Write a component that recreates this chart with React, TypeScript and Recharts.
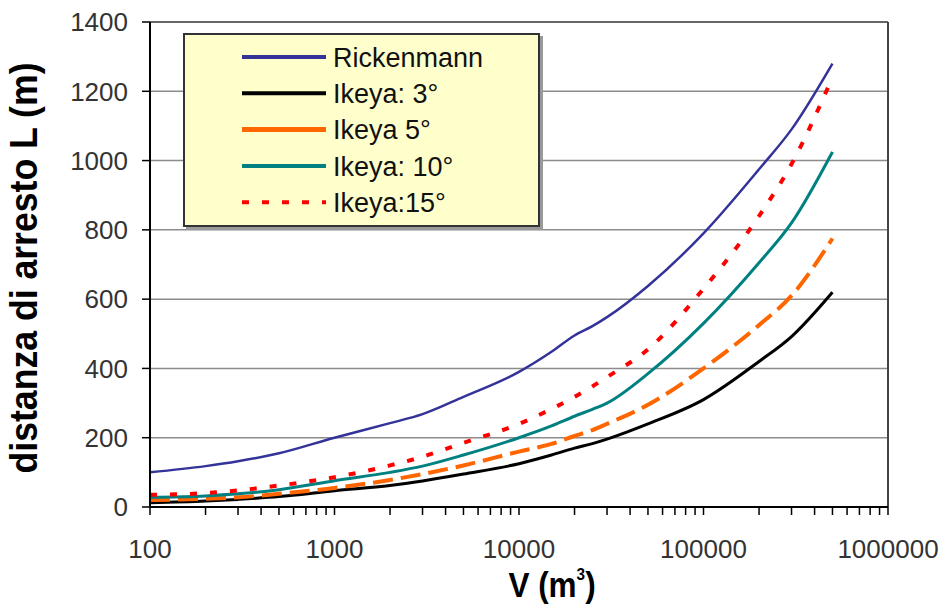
import React from 'react';
import { LineChart, Line, XAxis, YAxis, CartesianGrid, Legend, ReferenceLine } from 'recharts';

const FONT = '"Liberation Sans", Arial, sans-serif';

const volumes = [100, 200, 300, 500, 1000, 2000, 3000, 5000, 10000, 15000, 20000, 25000, 30000, 50000, 100000, 200000, 300000, 500000];
const rickenmann = [100, 118, 132, 155, 200, 242, 268, 318, 390, 448, 495, 522, 548, 638, 790, 975, 1090, 1280];
const ikeya3 = [12, 17, 22, 30, 47, 62, 75, 95, 125, 150, 170, 183, 196, 240, 310, 420, 492, 620];
const ikeya5 = [20, 24, 28, 38, 55, 78, 95, 120, 160, 182, 205, 222, 240, 295, 400, 525, 610, 775];
const ikeya10 = [28, 32, 38, 50, 76, 100, 118, 150, 200, 234, 262, 282, 300, 385, 530, 705, 820, 1025];
const ikeya15 = [35, 40, 48, 62, 86, 120, 145, 185, 240, 283, 318, 348, 375, 455, 630, 840, 990, 1240];

const xMajorTicks = [100, 1000, 10000, 100000, 1000000];
const xMinorMultipliers = [2, 3, 4, 5, 6, 7, 8, 9];
const yTicks = [0, 200, 400, 600, 800, 1000, 1200, 1400];

const series = [
  { key: 'rickenmann', name: 'Rickenmann', values: rickenmann, color: '#333399', width: 2.5, dash: undefined as string | undefined, legendDash: undefined as string | undefined },
  { key: 'ikeya3', name: 'Ikeya: 3°', values: ikeya3, color: '#000000', width: 3, dash: undefined, legendDash: undefined },
  { key: 'ikeya5', name: 'Ikeya 5°', values: ikeya5, color: '#FF6600', width: 4, dash: '20 8', legendDash: undefined },
  { key: 'ikeya10', name: 'Ikeya: 10°', values: ikeya10, color: '#008080', width: 3, dash: undefined, legendDash: undefined },
  { key: 'ikeya15', name: 'Ikeya:15°', values: ikeya15, color: '#FF0000', width: 4, dash: '7 13', legendDash: '7 13' },
];

const data = volumes.map((v, i) => {
  const row: Record<string, number> = { v };
  series.forEach((s) => {
    row[s.key] = s.values[i];
  });
  return row;
});

const allXTicks: number[] = [];
xMajorTicks.forEach((m, i) => {
  allXTicks.push(m);
  if (i < xMajorTicks.length - 1) xMinorMultipliers.forEach((k) => allXTicks.push(m * k));
});
allXTicks.sort((a, b) => a - b);

const XTick = (props: any) => {
  const { x, y, payload } = props;
  const v = payload.value;
  const major = xMajorTicks.includes(v);
  return (
    <g>
      <line x1={x} x2={x} y1={y} y2={y + 8} stroke="#000" strokeWidth={1.5} />
      {major && (
        <text x={x} y={y + 51} textAnchor="middle" fontSize={26} fill="#333" fontFamily={FONT}>
          {String(v)}
        </text>
      )}
    </g>
  );
};

const renderLegend = () => (
  <svg width={360} height={198} style={{ display: 'block', overflow: 'visible' }}>
    <rect x={3} y={3} width={357} height={194} fill="#999" />
    <rect x={1} y={1} width={355} height={192} fill="#FFFFCC" stroke="#333" strokeWidth={2} />
    {series.map((s, i) => {
      const cy = 24 + i * 36.3;
      return (
        <g key={s.key}>
          <line x1={59} x2={143} y1={cy} y2={cy} stroke={s.color} strokeWidth={s.key === 'ikeya5' ? 5 : 4} strokeDasharray={s.legendDash} />
          <text x={150} y={cy} dy="0.36em" fontSize={27} fill="#111" fontFamily={FONT}>
            {s.name}
          </text>
        </g>
      );
    })}
  </svg>
);

const YTitle = () => (
  <text
    transform="translate(37,268) rotate(-90)"
    textAnchor="middle"
    fontSize={38}
    fontWeight="bold"
    fill="#000"
    fontFamily={FONT}
    textLength={411}
    lengthAdjust="spacingAndGlyphs"
  >
    distanza di arresto L (m)
  </text>
);

const XTitle = () => (
  <text transform="translate(552,597) scale(0.9,1)" textAnchor="middle" fontSize={35} fontWeight="bold" fill="#000" fontFamily={FONT}>
    V (m
    <tspan fontSize={17} dy={-17}>3</tspan>
    <tspan dy={17}>)</tspan>
  </text>
);

export default function App() {
  return (
    <div style={{ position: 'absolute', left: 0, top: 0, width: 945, height: 605, background: '#fff' }}>
      <LineChart width={945} height={605} data={data} margin={{ top: 22, right: 57, bottom: 0, left: 0 }}>
        <CartesianGrid horizontal vertical={false} stroke="#8c8c8c" strokeWidth={1.5} />
        <XAxis
          dataKey="v"
          type="number"
          scale="log"
          domain={[100, 1000000]}
          ticks={allXTicks}
          interval={0}
          tick={<XTick />}
          tickLine={false}
          tickSize={0}
          tickMargin={0}
          height={98}
          axisLine={{ stroke: '#000', strokeWidth: 2 }}
          allowDataOverflow
          label={{ content: () => <XTitle /> }}
        />
        <YAxis
          type="number"
          domain={[0, 1400]}
          ticks={yTicks}
          interval={0}
          width={150}
          tickSize={8}
          tickMargin={14}
          tickLine={{ stroke: '#000', strokeWidth: 1.5 }}
          axisLine={{ stroke: '#000', strokeWidth: 2 }}
          tick={{ fontSize: 26, fill: '#333', fontFamily: FONT }}
          label={{ content: () => <YTitle /> }}
        />
        <ReferenceLine y={1400} stroke="#666" strokeWidth={2} />
        <ReferenceLine x={1000000} stroke="#444" strokeWidth={2} />
        {series.map((s) => (
          <Line
            key={s.key}
            dataKey={s.key}
            name={s.name}
            type="monotone"
            stroke={s.color}
            strokeWidth={s.width}
            strokeDasharray={s.dash}
            dot={false}
            activeDot={false}
            isAnimationActive={false}
          />
        ))}
        <Legend
          layout="vertical"
          align="center"
          verticalAlign="middle"
          content={renderLegend}
          wrapperStyle={{ position: 'absolute', left: 183, top: 33, width: 360, height: 198 }}
        />
      </LineChart>
    </div>
  );
}
